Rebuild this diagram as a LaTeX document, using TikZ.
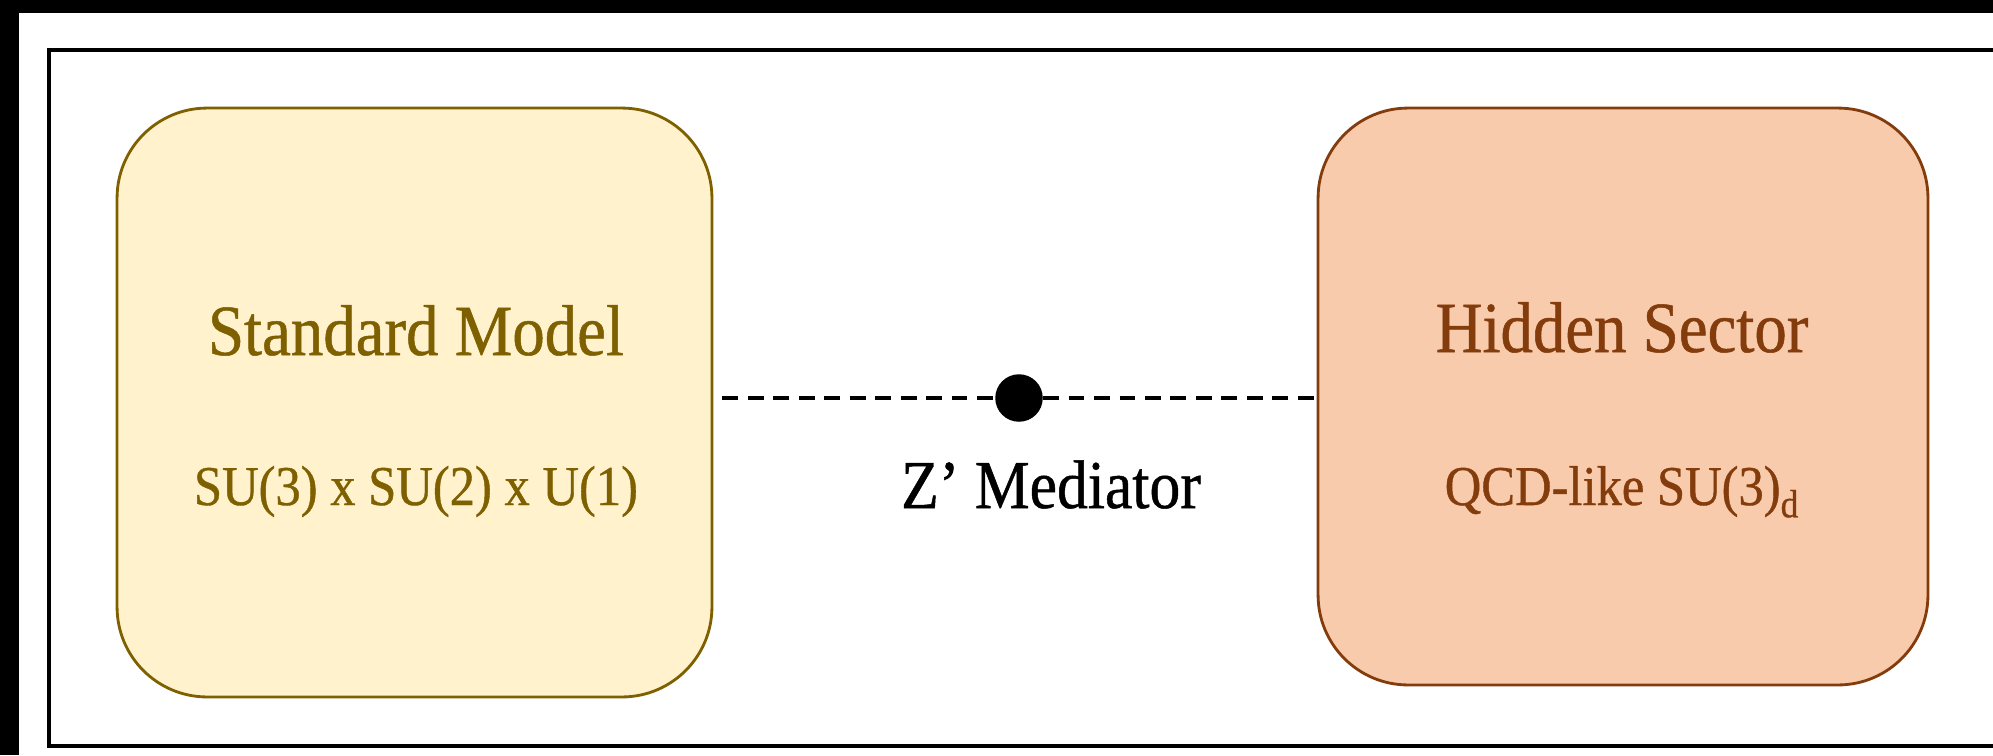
\documentclass[tikz,border=0pt]{standalone}
\usepackage{fontspec}
\setmainfont{Liberation Serif}[FakeStretch=0.9,FakeBold=0.7]
\usetikzlibrary{calc}
\definecolor{smfill}{HTML}{FFF2CC}
\definecolor{smline}{HTML}{7F6000}
\definecolor{hsfill}{HTML}{F7CBAC}
\definecolor{hsline}{HTML}{843C0C}
\tikzset{
  sector/.style={line width=1.6pt,rounded corners=1.8cm,inner sep=0pt},
  title/.style={anchor=base,font=\fontsize{41}{48}\selectfont},
  group/.style={anchor=base,font=\fontsize{32}{38}\selectfont},
  link/.style={line width=2pt,dash pattern=on 9pt off 5.5pt},
}

\begin{document}
\begin{tikzpicture}[x=0.02cm,y=-0.02cm]
    \useasboundingbox (0,0) rectangle (1993,755);
    % screen border and frame
    \fill[black] (0,0) rectangle (1993,755);
    \fill[white] (19,13) rectangle (1993,755);
    \draw[line width=2pt] (1993,50) -- (49,50) -- (49,746) -- (1993,746);

    % the two sectors
    \node[sector,fill=smfill,draw=smline,minimum width=11.9cm,minimum height=11.78cm]
      (sm) at (414.5,402.5) {};
    \node[sector,fill=hsfill,draw=hsline,minimum width=12.2cm,minimum height=11.54cm]
      (hs) at (1623,396.5) {};

    \node[title,text=smline] (smtitle) at (416,355) {Standard Model};
    \node[group,text=smline] (smgroup) at (416,505) {SU(3) x SU(2) x U(1)};
    \node[title,text=hsline] (hstitle) at (1622,352) {Hidden Sector};
    \node[group,text=hsline] (hsgroup) at (1622,505) {QCD-like SU(3)\textsubscript{d}};

    % mediator
    \node[circle,fill=black,inner sep=0pt,minimum size=0.95cm] (med) at (1019,398) {};
    \node[anchor=base,font=\fontsize{39}{46}\selectfont] (medlabel) at (1051,508) {Z' Mediator};
    \draw[link] ($(sm.east |- med)+(9,0)$) -- (med) -- (hs.west |- med);
\end{tikzpicture}
\end{document}
